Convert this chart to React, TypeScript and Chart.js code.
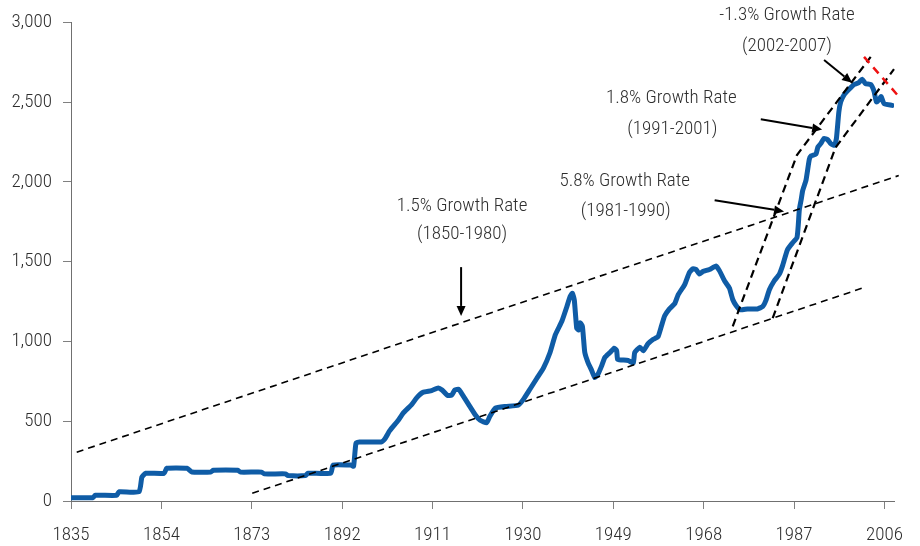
import { useEffect, useRef } from "react";
import { Chart, registerables } from "chart.js";

Chart.register(...registerables);

// ---- Data ----
const years = [
  1835, 1839.6, 1840.1, 1844.6, 1845.1, 1849.3, 1849.9, 1850.7, 1854.6, 1855.1,
  1859.4, 1860.4, 1864.4, 1864.9, 1870.1, 1870.6, 1875.1, 1875.6, 1880.1, 1880.6,
  1884.3, 1884.8, 1889.6, 1890.1, 1893.8, 1894.4, 1894.9, 1895.6, 1900.2, 1901,
  1902, 1903.8, 1904.9, 1906.6, 1907.7, 1909, 1910.8, 1912.2, 1913, 1914.1,
  1915, 1915.7, 1916.5, 1917, 1918.6, 1920, 1921, 1922.4, 1923, 1924.2,
  1926.3, 1929, 1930.1, 1931.5, 1932.9, 1934.3, 1935.7, 1936.8, 1938.2, 1939.2,
  1939.9, 1940.4, 1940.8, 1941.3, 1941.7, 1942, 1942.5, 1943, 1943.7, 1944.4,
  1945.1, 1945.7, 1946.5, 1947.2, 1948.3, 1949.2, 1949.7, 1949.9, 1950.7, 1952.1,
  1953.2, 1953.5, 1954.6, 1955.3, 1956.3, 1957.4, 1958.4, 1959.1, 1959.8, 1960.8,
  1961.9, 1962.6, 1964, 1965, 1965.7, 1966.4, 1967.1, 1967.8, 1969.2, 1970.6,
  1971.3, 1972.4, 1973.4, 1974.1, 1974.8, 1975.7, 1977.2, 1979.3, 1980.4, 1981.1,
  1981.8, 1982.8, 1983.9, 1984.6, 1985.6, 1986.7, 1987.6, 1987.9, 1988.1, 1988.5,
  1988.8, 1989.5, 1990.2, 1990.6, 1991.6, 1992, 1992.6, 1993.3, 1994, 1994.7,
  1995.5, 1995.9, 1996.4, 1996.8, 1997.5, 1998.5, 1999.6, 2000.6, 2001.3, 2002,
  2003.1, 2003.8, 2004.3, 2004.8, 2005.3, 2005.9, 2007.6,
];
const values = [
  21, 21, 36, 36, 58, 58, 150, 174, 174, 205,
  205, 182, 182, 192, 192, 181, 181, 170, 170, 160,
  160, 174, 174, 225, 225, 218, 362, 370, 370, 390,
  441, 506, 554, 604, 648, 681, 692, 709, 696, 663,
  663, 696, 700, 680, 604, 539, 506, 491, 528, 582,
  593, 600, 637, 702, 768, 833, 931, 1041, 1128, 1215,
  1281, 1302, 1259, 1084, 1073, 1117, 1095, 931, 866, 822,
  774, 790, 844, 899, 931, 958, 942, 888, 884, 881,
  866, 931, 964, 942, 986, 1014, 1030, 1095, 1161, 1204,
  1237, 1291, 1357, 1433, 1455, 1451, 1422, 1438, 1451, 1473,
  1444, 1379, 1335, 1263, 1226, 1198, 1204, 1204, 1219, 1259,
  1324, 1379, 1422, 1477, 1575, 1619, 1651, 1739, 1826, 1891,
  1946, 2011, 2142, 2164, 2175, 2219, 2240, 2273, 2266, 2240,
  2229, 2273, 2437, 2502, 2546, 2579, 2611, 2622, 2644, 2616,
  2611, 2568, 2502, 2513, 2535, 2491, 2480,
];

const xTickLabels = [1835, 1854, 1873, 1892, 1911, 1930, 1949, 1968, 1987, 2006];
const yTickValues = [0, 500, 1000, 1500, 2000, 2500, 3000];

// Trend lines (year, value pairs)
const upperLongYears = [1836.2, 2009.0];
const upperLongValues = [306, 2040];
const lowerLongYears = [1873.1, 2001.7];
const lowerLongValues = [48, 1338];
const leftSteepYears = [1974.1, 1987.6, 2003.1];
const leftSteepValues = [1095, 2169, 2784];
const rightSteepYears = [1982.5, 1995.7, 2008.0];
const rightSteepValues = [1147, 2215, 2707];
const declineYears = [2001.7, 2009.2];
const declineValues = [2784, 2529];

// Annotation texts and their anchors (year, value)
const noteTexts = [
  "-1.3% Growth Rate", "(2002-2007)",
  "1.8% Growth Rate", "(1991-2001)",
  "5.8% Growth Rate", "(1981-1990)",
  "1.5% Growth Rate", "(1850-1980)",
];
const noteYears = [1985.5, 1985.5, 1961.2, 1961.4, 1951.4, 1951.6, 1917.2, 1917.2];
const noteValues = [3043, 2851, 2524, 2332, 2005, 1815, 1850, 1669];

// Arrows: from (year, value) to (year, value)
const arrowFromYears = [1917.0, 1970.3, 1980.0, 1993.3];
const arrowFromValues = [1466, 1885, 2393, 2764];
const arrowToYears = [1917.0, 1984.9, 1992.9, 1999.2];
const arrowToValues = [1160, 1815, 2328, 2622];

const FAMILY = "Roboto, 'DejaVu Sans Condensed', sans-serif";
const STRETCH = "300 condensed";
const FONT_SIZE = 19;
const TEXT_COLOR = "#2e2e2e";

const pts = (xs: number[], ys: number[]) => xs.map((x, i) => ({ x, y: ys[i] }));

const annotationPlugin = {
  id: "growthNotes",
  afterDatasetsDraw(chart: any) {
    const { ctx, scales } = chart;
    const xs = scales.x;
    const ys = scales.y;
    ctx.save();
    ctx.fillStyle = TEXT_COLOR;
    ctx.font = `normal ${STRETCH} ${FONT_SIZE}px ${FAMILY}`;
    ctx.textAlign = "center";
    ctx.textBaseline = "middle";
    noteTexts.forEach((t, i) => {
      ctx.fillText(t, xs.getPixelForValue(noteYears[i]), ys.getPixelForValue(noteValues[i]));
    });
    ctx.strokeStyle = "#000";
    ctx.fillStyle = "#000";
    ctx.lineWidth = 2;
    arrowFromYears.forEach((_, i) => {
      const x1 = xs.getPixelForValue(arrowFromYears[i]);
      const y1 = ys.getPixelForValue(arrowFromValues[i]);
      const x2 = xs.getPixelForValue(arrowToYears[i]);
      const y2 = ys.getPixelForValue(arrowToValues[i]);
      const ang = Math.atan2(y2 - y1, x2 - x1);
      const head = 10;
      const hw = 4.5;
      const bx = x2 - head * Math.cos(ang);
      const by = y2 - head * Math.sin(ang);
      ctx.beginPath();
      ctx.moveTo(x1, y1);
      ctx.lineTo(bx, by);
      ctx.stroke();
      ctx.beginPath();
      ctx.moveTo(x2, y2);
      ctx.lineTo(bx + hw * Math.sin(ang), by - hw * Math.cos(ang));
      ctx.lineTo(bx - hw * Math.sin(ang), by + hw * Math.cos(ang));
      ctx.closePath();
      ctx.fill();
    });
    ctx.restore();
  },
};

export default function App() {
  const ref = useRef<HTMLCanvasElement | null>(null);
  useEffect(() => {
    document.body.style.margin = "0";
    if (!ref.current) return;
    const dashed = (data: any, color: string, width: number, dash: number[]) => ({
      type: "line" as const,
      data,
      borderColor: color,
      borderWidth: width,
      borderDash: dash,
      pointRadius: 0,
      fill: false,
      tension: 0,
      clip: false as any,
    });
    const tickFont = { family: FAMILY, size: FONT_SIZE, weight: STRETCH as any };
    const chart = new Chart(ref.current, {
      type: "line",
      data: {
        datasets: [
          dashed(pts(declineYears, declineValues), "#ee1111", 2.5, [8, 6]),
          dashed(pts(leftSteepYears, leftSteepValues), "#000", 2.2, [8, 5]),
          dashed(pts(rightSteepYears, rightSteepValues), "#000", 2.2, [8, 5]),
          dashed(pts(upperLongYears, upperLongValues), "#000", 1.6, [7, 5]),
          dashed(pts(lowerLongYears, lowerLongValues), "#000", 1.6, [7, 5]),
          {
            data: pts(years, values),
            borderColor: "#0f5ca6",
            borderWidth: 5,
            pointRadius: 0,
            tension: 0.15,
            borderJoinStyle: "round",
            borderCapStyle: "round",
            fill: false,
          } as any,
        ],
      },
      options: {
        animation: false,
        responsive: false,
        maintainAspectRatio: false,
        layout: { padding: { top: 22, right: 26, left: 0, bottom: 0 } },
        plugins: { legend: { display: false }, tooltip: { enabled: false } },
        scales: {
          x: {
            type: "linear",
            min: 1835,
            max: 2008,
            afterBuildTicks: (s: any) => {
              s.ticks = xTickLabels.map((v) => ({ value: v }));
            },
            afterFit: (s: any) => {
              s.height = 45;
            },
            grid: { drawOnChartArea: false, drawTicks: true, tickLength: 8, color: "#808080" },
            border: { display: true, color: "#707070", width: 1 },
            ticks: {
              autoSkip: false,
              maxRotation: 0,
              padding: 15,
              color: TEXT_COLOR,
              font: tickFont,
              callback: (v: any) => String(v),
            },
          },
          y: {
            type: "linear",
            min: 0,
            max: 3000,
            afterBuildTicks: (s: any) => {
              s.ticks = yTickValues.map((v) => ({ value: v }));
            },
            afterFit: (s: any) => {
              s.width = 71;
            },
            grid: { drawOnChartArea: false, drawTicks: true, tickLength: 8, color: "#808080" },
            border: { display: true, color: "#707070", width: 1 },
            ticks: {
              padding: 11,
              color: TEXT_COLOR,
              font: tickFont,
              callback: (v: any) => Number(v).toLocaleString("en-US"),
            },
          },
        },
      },
      plugins: [annotationPlugin],
    });
    return () => chart.destroy();
  }, []);
  return (
    <div style={{ width: 920, height: 546 }}>
      <canvas ref={ref} width={920} height={546} style={{ display: "block" }} />
    </div>
  );
}
